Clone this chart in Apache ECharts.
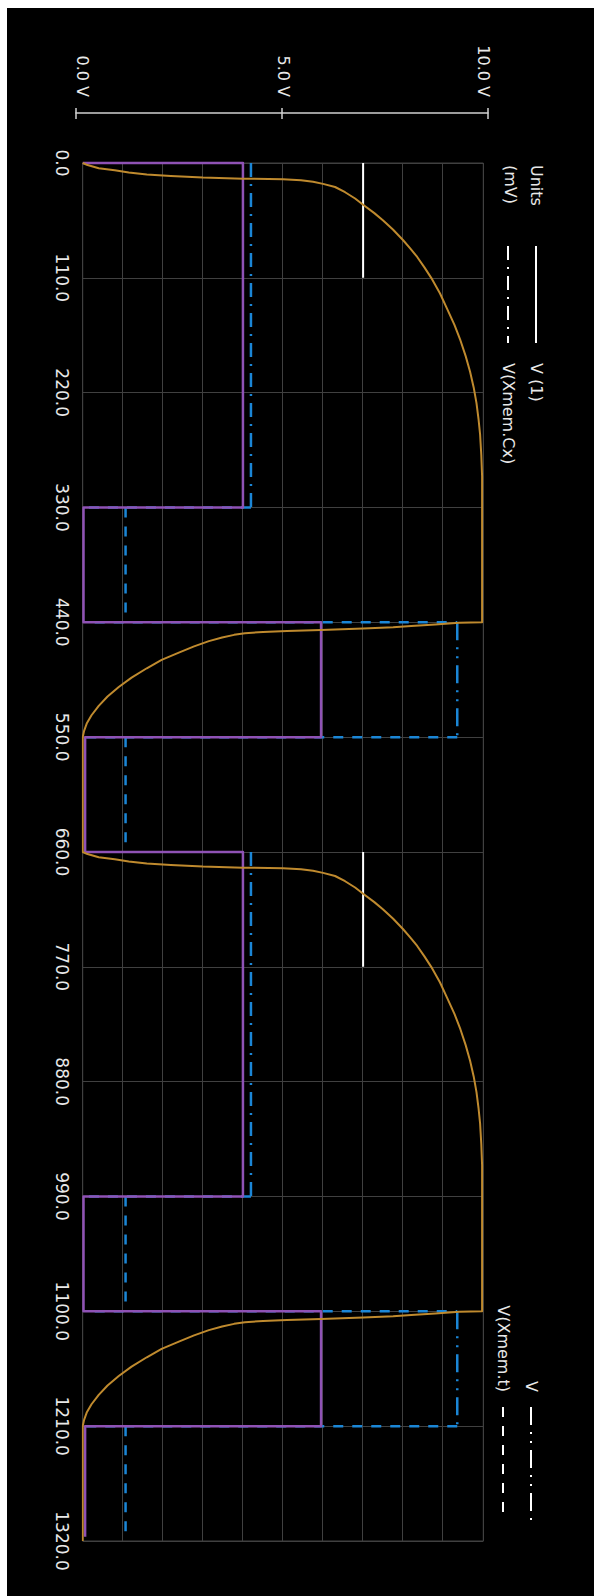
<!DOCTYPE html>
<html>
<head>
<meta charset="utf-8">
<script src="https://cdn.jsdelivr.net/npm/echarts@6/dist/echarts.min.js"></script>
<style>
  html, body { margin: 0; padding: 0; background: #fff; width: 594px; height: 1596px; overflow: hidden; }
  #frame { position: absolute; left: 7px; top: 8px; width: 587px; height: 1588px; background: #000; overflow: hidden; }
  /* the plot is laid out landscape and turned a quarter turn clockwise */
  #chart { position: absolute; left: 0; top: 0; width: 1588px; height: 587px;
           transform-origin: 0 0; transform: translate(587px, 0) rotate(90deg); }
</style>
</head>
<body>
<div id="frame"><div id="chart"></div></div>
<script>
// ---- axis ticks ----
const timeTicks = [0, 110, 220, 330, 440, 550, 660, 770, 880, 990, 1100, 1210, 1320];
const voltTicks = [0, 5, 10];
const voltTickLabels = ['0.0 V', '5.0 V', '10.0 V'];

// ---- traces: [time, volts]; each inner list is one unbroken stroke ----
const v1Segments = [
  [[0, 7], [110, 7]],
  [[660, 7], [770, 7]]
];
const cxSegments = [
  [[0, 4.2], [330, 4.2]],
  [[660, 4.2], [990, 4.2]]
];
const vSegments = [
  [[440, 9.35], [550, 9.35]],
  [[1100, 9.35], [1210, 9.35]]
];
const tSegments = [
  [[330, 4.2], [330, 0]],
  [[330, 1.07], [440, 1.07]],
  [[440, 0.3], [440, 9.35]],
  [[550, 9.35], [550, 0.05]],
  [[550, 1.07], [660, 1.07]],
  [[990, 4.2], [990, 0]],
  [[990, 1.07], [1100, 1.07]],
  [[1100, 0.3], [1100, 9.35]],
  [[1210, 9.35], [1210, 0.05]],
  [[1210, 1.07], [1316, 1.07]]
];
// drive pulse (step waveform)
const pulse = [
  [0, 0], [0, 4.0], [330, 4.0], [330, 0.02], [440, 0.02], [440, 5.95], [550, 5.95], [550, 0.06], [660, 0.06],
  [660, 4.0], [990, 4.0], [990, 0.02], [1100, 0.02], [1100, 5.95], [1210, 5.95], [1210, 0.06], [1316, 0.06]
];
// node response (charge / discharge), first cycle
const responseCycle1 = [
  [0, 0], [2, 0.12], [5, 0.4], [7, 0.8], [9, 1.15], [11, 1.6], [12.5, 2.2], [14, 3.0], [15, 4.0], [15.6, 5.0],
  [16.5, 5.45], [18, 5.75], [20, 6.0], [23, 6.3], [28, 6.55], [34, 6.8], [40, 7.0], [48, 7.28], [55, 7.5],
  [64, 7.75], [74, 8.0], [82, 8.18], [90, 8.35], [100, 8.53], [110, 8.7], [125, 8.92], [140, 9.1], [155, 9.28],
  [170, 9.43], [185, 9.56], [200, 9.67], [215, 9.76], [230, 9.83], [245, 9.88], [260, 9.92], [280, 9.95],
  [300, 9.97], [440, 9.97],
  [440.4, 9.4], [442, 8.8], [443.5, 8.2], [444.8, 7.75], [446, 7.0], [447.4, 5.95], [448.4, 5.1], [449.2, 4.5],
  [450.5, 4.05], [452, 3.78], [454.5, 3.48], [458, 3.15], [463, 2.78], [469, 2.4], [476, 1.97], [484, 1.6],
  [493, 1.22], [502, 0.9], [511, 0.62], [520, 0.4], [529, 0.22], [537, 0.1], [544, 0.035], [550, 0],
  [660, 0]
];
// second cycle
const responseCycle2 = [
  [662, 0.12], [665, 0.4], [667, 0.8], [669, 1.15], [671, 1.6], [672.5, 2.2], [674, 3.0], [675, 4.0], [675.6, 5.0],
  [676.5, 5.45], [678, 5.75], [680, 6.0], [683, 6.3], [688, 6.55], [694, 6.8], [700, 7.0], [708, 7.28], [715, 7.5],
  [724, 7.75], [734, 8.0], [742, 8.18], [750, 8.35], [760, 8.53], [770, 8.7], [785, 8.92], [800, 9.1], [815, 9.28],
  [830, 9.43], [845, 9.56], [860, 9.67], [875, 9.76], [890, 9.83], [905, 9.88], [920, 9.92], [940, 9.95],
  [960, 9.97], [1100, 9.97],
  [1100.4, 9.4], [1102, 8.8], [1103.5, 8.2], [1104.8, 7.75], [1106, 7.0], [1107.4, 5.95], [1108.4, 5.1], [1109.2, 4.5],
  [1110.5, 4.05], [1112, 3.78], [1114.5, 3.48], [1118, 3.15], [1123, 2.78], [1129, 2.4], [1136, 1.97], [1144, 1.6],
  [1153, 1.22], [1162, 0.9], [1171, 0.62], [1180, 0.4], [1189, 0.22], [1197, 0.1], [1204, 0.035], [1210, 0],
  [1320, 0]
];

// join strokes with gaps so one series can hold several pieces
function joinSegments(segs) {
  const out = [];
  segs.forEach((seg, i) => {
    if (i > 0) out.push([seg[0][0], null]);
    seg.forEach(p => out.push(p));
  });
  return out;
}

const FONT = 'DejaVu Sans';
const TEXT = '#e8e8e8';
const GRID = '#404040';

const chart = echarts.init(document.getElementById('chart'), null, { renderer: 'svg', width: 1588, height: 587 });

const lineSeries = (name, data, color, width, type, z) => ({
  name, type: 'line', data, xAxisIndex: 0, yAxisIndex: 0,
  symbol: 'none', connectNulls: false, smooth: false, z,
  lineStyle: { color, width, type, cap: 'butt', join: 'round' },
  itemStyle: { color },
  emphasis: { disabled: true }
});

// legend keys show only the stroke pattern, in white
const legendBase = {
  orient: 'vertical', itemHeight: 14, itemGap: 12, selectedMode: false,
  lineStyle: { color: '#fff', width: 2 },
  itemStyle: { color: 'rgba(0,0,0,0)', borderColor: 'rgba(0,0,0,0)', borderWidth: 0, opacity: 0 }
};

chart.setOption({
  animation: false,
  backgroundColor: '#000',
  textStyle: { fontFamily: FONT },
  title: {
    text: 'Units\n(mV)', left: 152, top: 40,
    textStyle: { color: TEXT, fontSize: 16, fontWeight: 'normal', lineHeight: 26, fontFamily: FONT }
  },
  legend: [
    Object.assign({}, legendBase, {
      data: ['V (1)', 'V(Xmem.Cx)'], left: 232, top: 45, itemWidth: 97,
      textStyle: { color: TEXT, fontSize: 16, fontFamily: FONT, padding: [0, 0, 0, 15] }
    }),
    Object.assign({}, legendBase, {
      data: ['V', 'V(Xmem.t)'], right: 69, top: 50, align: 'right', itemWidth: 114,
      textStyle: { color: TEXT, fontSize: 16, fontFamily: FONT, padding: [0, 10, 0, 0] }
    })
  ],
  grid: [
    { left: 155, right: 55, top: 110.7, bottom: 75.7, show: true, borderColor: GRID, borderWidth: 1, backgroundColor: 'transparent' },
    { left: 105, top: 106, height: 412, width: 1, show: false }
  ],
  xAxis: [
    {
      gridIndex: 0, type: 'value', min: timeTicks[0], max: timeTicks[timeTicks.length - 1], interval: 110,
      axisLine: { show: false }, axisTick: { show: false },
      splitLine: { show: true, lineStyle: { color: GRID, width: 1 } },
      axisLabel: {
        color: TEXT, fontSize: 17, fontFamily: FONT, margin: 12, hideOverlap: false,
        showMinLabel: true, showMaxLabel: true,
        formatter: v => (timeTicks.indexOf(v) >= 0 ? v.toFixed(1) : '')
      }
    },
    { gridIndex: 1, type: 'value', min: 0, max: 1, show: false }
  ],
  yAxis: [
    {
      gridIndex: 0, type: 'value', min: 0, max: 10, interval: 1, offset: 50,
      axisLine: { show: false }, axisTick: { show: false },
      splitLine: { show: true, lineStyle: { color: GRID, width: 1 } },
      axisLabel: {
        color: TEXT, fontSize: 16, fontFamily: FONT, margin: 16, padding: [7, 0, 0, 0],
        formatter: v => { const i = voltTicks.indexOf(v); return i >= 0 ? voltTickLabels[i] : ''; }
      }
    },
    {
      gridIndex: 1, type: 'value', min: 0, max: 10, interval: 5, position: 'left',
      axisLine: { show: true, onZero: false, lineStyle: { color: '#d0d0d0', width: 1.5 } },
      axisTick: { show: true, length: 5, lineStyle: { color: '#d0d0d0', width: 1.5 } },
      axisLabel: { show: false }, splitLine: { show: false }
    },
    {
      gridIndex: 1, type: 'value', min: 0, max: 10, interval: 5, position: 'left',
      axisLine: { show: false, onZero: false },
      axisTick: { show: true, inside: true, length: 6, lineStyle: { color: '#d0d0d0', width: 1.5 } },
      axisLabel: { show: false }, splitLine: { show: false }
    }
  ],
  series: [
    lineSeries('V (1)', joinSegments(v1Segments), '#ffffff', 2, 'solid', 2),
    lineSeries('V(Xmem.Cx)', joinSegments(cxSegments), '#1b86d6', 2.5, [14, 7, 2, 7], 3),
    lineSeries('V', joinSegments(vSegments), '#1b86d6', 2.5, [18, 7, 2, 7, 2, 7], 3),
    lineSeries('V(Xmem.t)', joinSegments(tSegments), '#1b86d6', 2.5, [10, 9], 3),
    lineSeries('V(in)', pulse, '#8f52b5', 2.5, 'solid', 4),
    lineSeries('V(out)', responseCycle1.concat(responseCycle2), '#bf8a2e', 2, 'solid', 5)
  ]
});
</script>
</body>
</html>
